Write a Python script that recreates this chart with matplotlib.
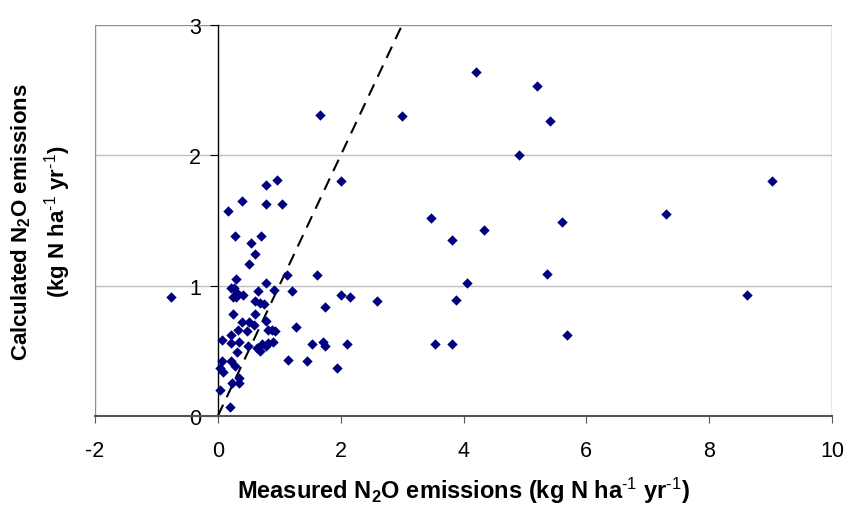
import matplotlib
matplotlib.use("Agg")
import matplotlib.pyplot as plt
import numpy as np

plt.rcParams['font.family'] = ['Liberation Sans', 'DejaVu Sans']
plt.rcParams['mathtext.fontset'] = 'custom'
plt.rcParams['mathtext.rm'] = 'Liberation Sans'
plt.rcParams['mathtext.bf'] = 'Liberation Sans:bold'
plt.rcParams['mathtext.default'] = 'regular'
plt.rcParams['axes.unicode_minus'] = False

# measured vs calculated N2O emissions (kg N/ha/yr)
measured = [-0.77, 4.20, 5.19, 5.41, 1.67, 3.00, 4.91, 2.00, 9.03, 0.96,
            0.79, 0.39, 0.79, 1.04, 0.17, 3.47, 7.30, 5.60, 4.34, 0.28,
            0.70, 3.81, 0.54, 0.61, 0.50, 1.61, 1.12, 5.36, 4.05, 0.79,
            0.29, 0.21, 0.27, 0.91, 0.66, 1.21, 8.61, 2.00, 2.15, 2.59,
            3.87, 1.74, 0.41, 0.25, 0.30, 0.32, 0.61, 0.69, 0.75, 0.25,
            0.61, 0.39, 0.50, 0.59, 0.79, 0.33, 0.47, 0.81, 0.88, 0.93,
            1.27, 0.07, 0.21, 0.21, 0.35, 0.49, 0.63, 0.72, 0.79, 0.82,
            0.89, 0.68, 0.32, 1.53, 1.72, 1.74, 2.11, 3.54, 3.81, 5.69,
            1.15, 1.45, 1.94, 0.06, 0.04, 0.08, 0.21, 0.28, 0.35, 0.35,
            0.23, 0.04, 0.19]
calculated = [0.91, 2.64, 2.53, 2.26, 2.31, 2.30, 2.00, 1.80, 1.80, 1.81,
              1.77, 1.65, 1.63, 1.63, 1.57, 1.52, 1.55, 1.49, 1.43, 1.38,
              1.38, 1.35, 1.33, 1.24, 1.17, 1.08, 1.08, 1.09, 1.02, 1.02,
              1.05, 0.98, 0.98, 0.97, 0.96, 0.96, 0.93, 0.93, 0.91, 0.88,
              0.89, 0.84, 0.93, 0.91, 0.91, 0.94, 0.88, 0.87, 0.86, 0.78,
              0.78, 0.72, 0.72, 0.70, 0.73, 0.66, 0.65, 0.66, 0.66, 0.65,
              0.68, 0.58, 0.62, 0.56, 0.57, 0.54, 0.52, 0.55, 0.54, 0.56,
              0.57, 0.50, 0.49, 0.55, 0.57, 0.54, 0.55, 0.55, 0.55, 0.62,
              0.43, 0.42, 0.37, 0.42, 0.37, 0.34, 0.42, 0.38, 0.29, 0.25,
              0.25, 0.20, 0.07]
one_to_one = [0, 3]

fig = plt.figure(figsize=(8.49, 5.06), dpi=100)
ax = fig.add_axes([0.1119, 0.1759, 0.8681, 0.7727])

ax.set_xlim(-2, 10)
ax.set_ylim(0, 3)

# grid + gray frame
for yv in [1, 2]:
    ax.axhline(yv, color='#c0c0c0', lw=1, zorder=0)
ax.add_patch(plt.Rectangle((0, 0), 1, 1, transform=ax.transAxes, fill=False,
                           edgecolor='#909090', lw=1, zorder=1))

ax.plot(one_to_one, one_to_one, color='k', ls=(0, (6, 4)), lw=1.5, zorder=2)
ax.scatter(measured, calculated, marker='D', s=28, color='#000080',
           linewidths=0, zorder=3)

for s in ['top', 'right']:
    ax.spines[s].set_visible(False)
ax.spines['left'].set_position(('data', 0))
ax.spines['left'].set_linewidth(1)
ax.spines['bottom'].set_color('#555555')
ax.spines['bottom'].set_linewidth(1.5)

ax.set_xticks(np.arange(-2, 11, 2))
ax.set_yticks([0, 1, 2, 3])
ax.tick_params(axis='x', direction='out', length=5, pad=12, labelsize=15.5,
               color='#555555')
ax.tick_params(axis='y', direction='out', length=6, pad=6, labelsize=15.5)

ax.set_xlabel(r'Measured N$_2$O emissions (kg N ha$^{\text{-1}}$ yr$^{\text{-1}}$)',
              fontsize=17, fontweight='bold', labelpad=10)
fig.text(21 / 849, 0.561, 'Calculated N$_2$O emissions',
         rotation=90, ha='center', va='center', fontsize=16, fontweight='bold')
fig.text(58 / 849, 0.561, r'(kg N ha$^{\text{-1}}$ yr$^{\text{-1}}$)',
         rotation=90, ha='center', va='center', fontsize=16, fontweight='bold')

fig.savefig('out.png', dpi=100)
